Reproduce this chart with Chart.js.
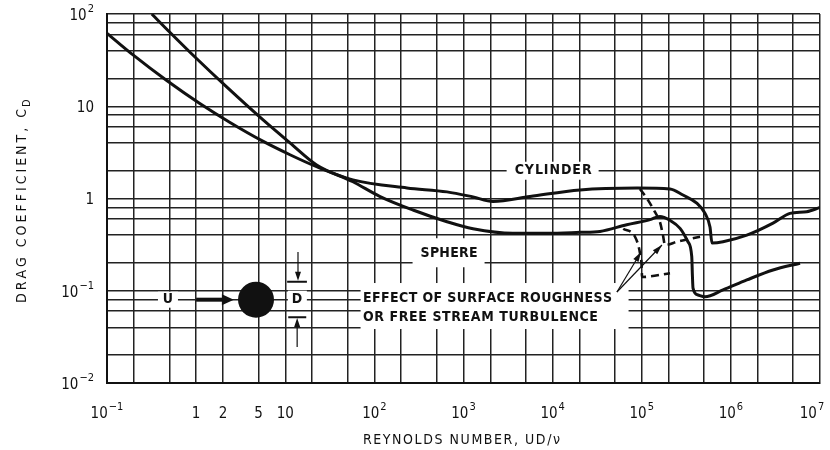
<!DOCTYPE html>
<html lang="en">
<head>
  <meta charset="UTF-8">
  <title>Drag coefficient vs Reynolds number</title>
  <script src="https://cdn.jsdelivr.net/npm/chart.js"></script>
  <style>
    html, body { margin: 0; padding: 0; background: #fff; }
    #wrap { width: 830px; height: 450px; }
  </style>
</head>
<body>
  <div id="wrap"><canvas id="dragChart"></canvas></div>

  <script>
    // curves (Reynolds number -> drag coefficient)
    const cylinderRe = [0.1, 0.196, 0.468, 1.1, 2.4, 5.6, 11.3, 22.5, 57.5, 232, 653, 1279, 2143, 5572, 20280, 88500, 207500, 290000, 414000, 513000, 583000, 614000, 816000, 1.51e6, 2.97e6, 4.6e6, 7.1e6, 1e7];
    const cylinderCd = [61.8, 36.0, 19.0, 10.7, 6.67, 4.18, 2.98, 2.21, 1.59, 1.30, 1.18, 1.04, 0.93, 1.05, 1.24, 1.30, 1.27, 1.09, 0.89, 0.69, 0.49, 0.33, 0.34, 0.40, 0.54, 0.69, 0.72, 0.80];

    const sphereRe = [0.318, 0.51, 1.01, 2.2, 5.6, 11.3, 22.5, 57.5, 116, 271, 653, 1279, 3590, 8650, 20280, 34000, 67800, 124000, 160000, 207500, 269000, 330000, 364000, 370000, 376000, 428000, 513000, 816000, 1.51e6, 2.97e6, 5.97e6];
    const sphereCd = [100, 63.0, 32.9, 16.2, 7.15, 4.01, 2.31, 1.52, 1.05, 0.75, 0.56, 0.47, 0.42, 0.42, 0.43, 0.44, 0.52, 0.59, 0.64, 0.58, 0.475, 0.34, 0.234, 0.148, 0.107, 0.090, 0.086, 0.102, 0.131, 0.168, 0.199];

    // dashed branches: surface roughness / free stream turbulence
    const sphereRoughRe = [62000, 84000, 95500, 99800, 100700, 207500];
    const sphereRoughCd = [0.47, 0.385, 0.257, 0.182, 0.141, 0.155];
    const cylinderRoughRe = [95500, 117500, 141000, 160000, 173000, 182400, 249000, 451000];
    const cylinderRoughCd = [1.27, 0.96, 0.71, 0.556, 0.40, 0.313, 0.34, 0.385];

    // grid lines and tick labels
    const reGrid = [0.1, 0.2, 0.5, 1, 2, 5, 10, 20, 50, 1e2, 2e2, 5e2, 1e3, 2e3, 5e3, 1e4, 2e4, 5e4, 1e5, 2e5, 5e5, 1e6, 2e6, 5e6, 1e7];
    const cdGrid = [0.01, 0.02, 0.04, 0.06, 0.08, 0.1, 0.2, 0.4, 0.6, 0.8, 1, 2, 4, 6, 8, 10, 20, 40, 60, 80, 100];
    const reTickValues = [0.1, 1, 2, 5, 10, 1e2, 1e3, 1e4, 1e5, 1e6, 1e7];
    const reTickBase = ['10', '1', '2', '5', '10', '10', '10', '10', '10', '10', '10'];
    const reTickExp = ['\u22121', '', '', '', '', '2', '3', '4', '5', '6', '7'];
    const cdTickValues = [100, 10, 1, 0.1, 0.01];
    const cdTickBase = ['10', '10', '1', '10', '10'];
    const cdTickExp = ['2', '', '', '\u22121', '\u22122'];

    const FONT = '"Liberation Sans Narrow", "DejaVu Sans Condensed", "Liberation Sans", sans-serif';
    const INK = '#111';

    const toPoints = (xs, ys) => xs.map((x, i) => ({ x, y: ys[i] }));

    // draw a string spread out to a given width
    function spaced(ctx, text, x, y, width) {
      const chars = [...text];
      const ws = chars.map(c => ctx.measureText(c).width);
      const natural = ws.reduce((a, b) => a + b, 0);
      const gap = chars.length > 1 ? (width - natural) / (chars.length - 1) : 0;
      let cx = x;
      ctx.textAlign = 'left';
      chars.forEach((c, i) => { ctx.fillText(c, cx, y); cx += ws[i] + gap; });
    }

    function powerLabel(ctx, base, exp, x, y, align) {
      ctx.font = `15px ${FONT}`;
      const bw = ctx.measureText(base).width;
      ctx.font = `11px ${FONT}`;
      const ew = exp ? ctx.measureText(exp).width + 1 : 0;
      const total = bw + ew;
      const left = align === 'center' ? x - total / 2 : x - total;
      ctx.textAlign = 'left';
      ctx.textBaseline = 'middle';
      ctx.font = `15px ${FONT}`;
      ctx.fillText(base, left, y);
      if (exp) {
        ctx.font = `11px ${FONT}`;
        ctx.fillText(exp, left + bw + 1, y - 7);
      }
    }

    function arrowHead(ctx, x0, y0, x1, y1, len, half) {
      const a = Math.atan2(y1 - y0, x1 - x0);
      ctx.beginPath();
      ctx.moveTo(x1, y1);
      ctx.lineTo(x1 - len * Math.cos(a) + half * Math.sin(a), y1 - len * Math.sin(a) - half * Math.cos(a));
      ctx.lineTo(x1 - len * Math.cos(a) - half * Math.sin(a), y1 - len * Math.sin(a) + half * Math.cos(a));
      ctx.closePath();
      ctx.fill();
    }

    const notes = {
      id: 'notes',
      beforeDatasetsDraw(chart) {
        const { ctx } = chart;
        const sx = chart.scales.x, sy = chart.scales.y;
        const px = v => sx.getPixelForValue(v);
        const py = v => sy.getPixelForValue(v);
        ctx.save();
        ctx.fillStyle = '#fff';

        // white boxes behind the labels
        const boxes = [
          [px(1e4) - 46, py(2) - 9, 92, 18],
          [px(680) - 36, py(0.255) - 15, 72, 29],
          [px(70), py(0.0834) - 15, 268, 46],
          [px(0.483) - 10, py(0.08) - 8, 20, 16],
          [px(13.5) - 9, py(0.08) - 9, 19, 18]
        ];
        boxes.forEach(b => ctx.fillRect(b[0], b[1], b[2], b[3]));

        ctx.fillStyle = INK;
        ctx.textBaseline = 'middle';
        ctx.font = `bold 14px ${FONT}`;
        spaced(ctx, 'CYLINDER', px(1e4) - 38, py(2), 77);
        spaced(ctx, 'SPHERE', px(680) - 28, py(0.255), 57);
        spaced(ctx, 'EFFECT OF SURFACE ROUGHNESS', px(74.5), py(0.0834), 249);
        spaced(ctx, 'OR FREE STREAM TURBULENCE', px(74.5), py(0.0519), 235);

        // flow schematic: U -> sphere, diameter D
        ctx.textAlign = 'center';
        ctx.fillText('U', px(0.483), py(0.08));
        ctx.fillText('D', px(13.5), py(0.08));

        const y0 = py(0.08);
        ctx.strokeStyle = INK;
        ctx.lineWidth = 4;
        ctx.beginPath();
        ctx.moveTo(px(1.0), y0);
        ctx.lineTo(px(2.2), y0);
        ctx.stroke();
        arrowHead(ctx, px(1.0), y0, px(2.65), y0, 12, 5.5);

        ctx.beginPath();
        ctx.arc(px(4.7), y0, 18, 0, Math.PI * 2);
        ctx.fill();

        ctx.lineWidth = 2;
        ctx.beginPath();
        ctx.moveTo(px(10.5), py(0.125)); ctx.lineTo(px(17.5), py(0.125));
        ctx.moveTo(px(10.8), py(0.0515)); ctx.lineTo(px(17.2), py(0.0515));
        ctx.stroke();
        ctx.lineWidth = 1.2;
        ctx.beginPath();
        ctx.moveTo(px(13.9), py(0.263)); ctx.lineTo(px(13.9), py(0.14));
        ctx.moveTo(px(13.6), py(0.0245)); ctx.lineTo(px(13.6), py(0.046));
        ctx.stroke();
        arrowHead(ctx, px(13.9), py(0.263), px(13.9), py(0.128), 9, 3);
        arrowHead(ctx, px(13.6), py(0.0245), px(13.6), py(0.0505), 9, 3);
        ctx.restore();
      },
      afterDatasetsDraw(chart) {
        const { ctx } = chart;
        const sx = chart.scales.x, sy = chart.scales.y;
        const px = v => sx.getPixelForValue(v);
        const py = v => sy.getPixelForValue(v);
        ctx.save();
        ctx.strokeStyle = INK;
        ctx.fillStyle = INK;
        ctx.lineWidth = 1.2;
        const from = [px(52700), py(0.097)];
        [[98200, 0.263], [168600, 0.313]].forEach(t => {
          const to = [px(t[0]), py(t[1])];
          ctx.beginPath();
          ctx.moveTo(from[0], from[1]);
          ctx.lineTo(to[0], to[1]);
          ctx.stroke();
          arrowHead(ctx, from[0], from[1], to[0], to[1], 10, 3);
        });
        ctx.restore();
      },
      afterDraw(chart) {
        const { ctx, chartArea } = chart;
        const sx = chart.scales.x, sy = chart.scales.y;
        ctx.save();
        ctx.fillStyle = INK;
        reTickValues.forEach((v, i) => {
          powerLabel(ctx, reTickBase[i], reTickExp[i], Math.min(sx.getPixelForValue(v), 812), chartArea.bottom + 31, 'center');
        });
        cdTickValues.forEach((v, i) => {
          powerLabel(ctx, cdTickBase[i], cdTickExp[i], chartArea.left - 13, sy.getPixelForValue(v) + 2, 'right');
        });

        // axis titles
        ctx.textBaseline = 'middle';
        ctx.font = `14px ${FONT}`;
        spaced(ctx, 'REYNOLDS NUMBER, UD/\u03bd', 363, chartArea.bottom + 57, 197);

        ctx.translate(22, 200);
        ctx.rotate(-Math.PI / 2);
        spaced(ctx, 'DRAG COEFFICIENT, C', -103, 0, 194);
        ctx.font = `11px ${FONT}`;
        ctx.fillText('D', 93, 5);
        ctx.restore();
      }
    };

    const curve = (data, dashed) => ({
      data,
      showLine: true,
      borderColor: INK,
      borderWidth: dashed ? 2.6 : 3,
      borderDash: dashed ? [8, 5] : [],
      pointRadius: 0,
      cubicInterpolationMode: 'monotone',
      fill: false
    });

    new Chart(document.getElementById('dragChart'), {
      type: 'scatter',
      data: {
        datasets: [
          curve(toPoints(cylinderRe, cylinderCd), false),
          curve(toPoints(sphereRe, sphereCd), false),
          curve(toPoints(sphereRoughRe, sphereRoughCd), true),
          curve(toPoints(cylinderRoughRe, cylinderRoughCd), true)
        ]
      },
      options: {
        responsive: true,
        maintainAspectRatio: false,
        animation: false,
        layout: { padding: { left: 107, right: 10, top: 14, bottom: 67 } },
        plugins: { legend: { display: false }, tooltip: { enabled: false } },
        scales: {
          x: {
            type: 'logarithmic',
            min: 0.1,
            max: 1e7,
            afterBuildTicks: s => { s.ticks = reGrid.map(v => ({ value: v })); },
            ticks: { display: false },
            grid: { color: '#222', lineWidth: 1.5, drawTicks: false },
            border: { color: INK, width: 2 }
          },
          y: {
            type: 'logarithmic',
            min: 0.01,
            max: 100,
            afterBuildTicks: s => { s.ticks = cdGrid.map(v => ({ value: v })); },
            ticks: { display: false },
            grid: { color: '#222', lineWidth: 1.5, drawTicks: false },
            border: { color: INK, width: 2 }
          }
        }
      },
      plugins: [notes]
    });
  </script>
</body>
</html>
